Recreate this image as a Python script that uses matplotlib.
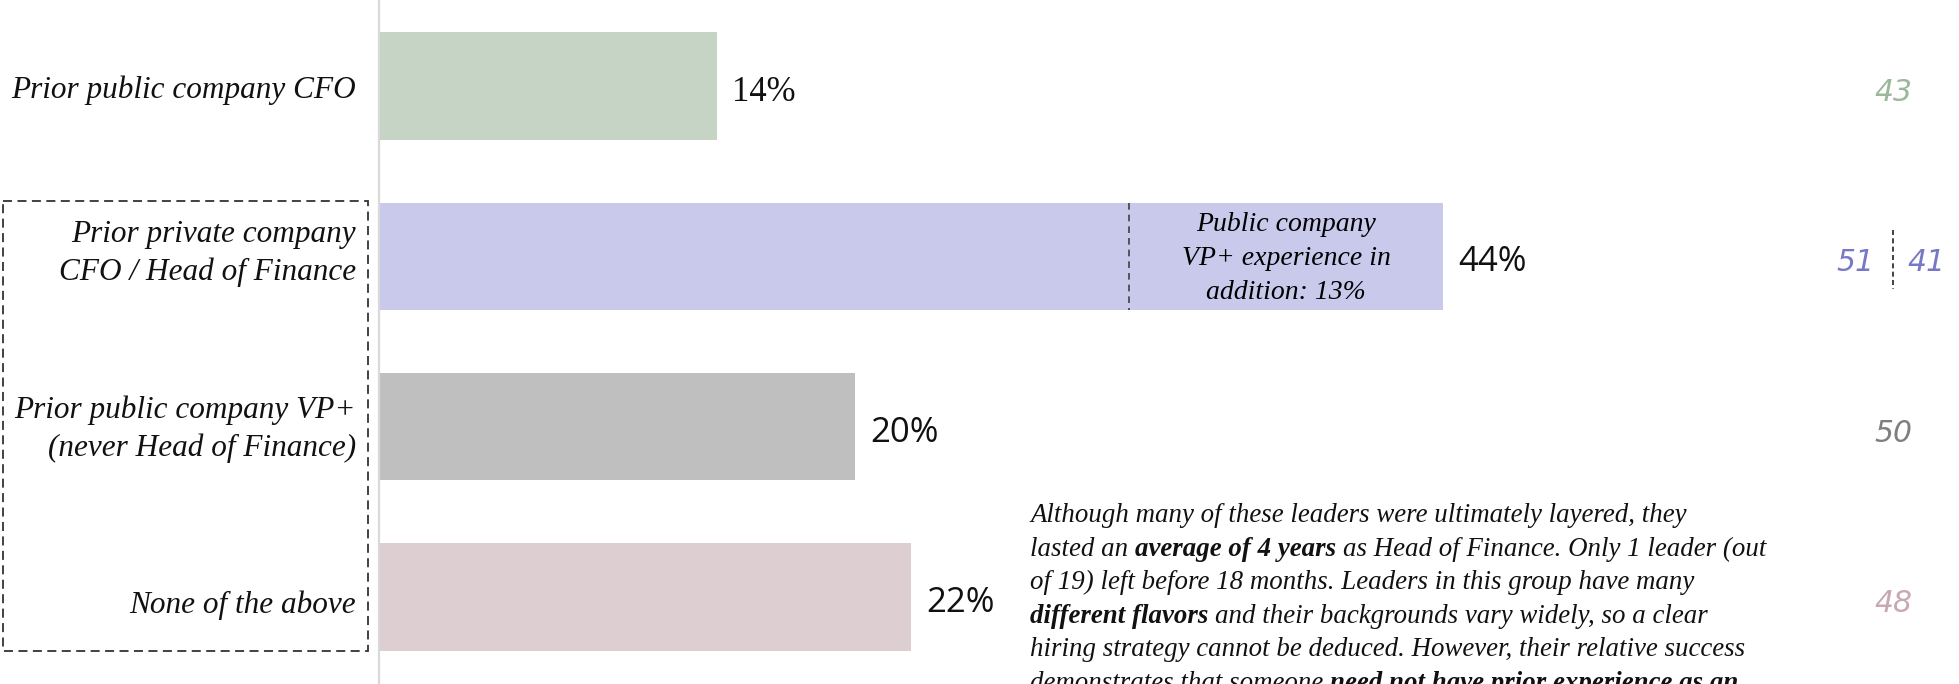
import matplotlib
matplotlib.use("Agg")
import matplotlib.pyplot as plt
import matplotlib.transforms as mtransforms
from matplotlib.patches import Rectangle

# ---------------- data ----------------
categories = ["Prior public company CFO",
              "Prior private company\nCFO / Head of Finance",
              "Prior public company VP+\n(never Head of Finance)",
              "None of the above"]
shares = [14, 44, 19.7, 22]
bar_colors = ["#c5d4c5", "#c9c9ec", "#bfbfbf", "#ddced2"]
overlap_share = 13
overlap_label = ["Public company", "VP+ experience in", "addition: 13%"]
scores = ["43", "51", "50", "48"]
score_alt = "41"
score_colors = ["#9bb89b", "#7878c8", "#7f7f7f", "#c8a8b2"]
note_lines = [
    [("Although many of these leaders were ultimately layered, they", False)],
    [("lasted an ", False), ("average of 4 years", True),
     (" as Head of Finance. Only 1 leader (out", False)],
    [("of 19) left before 18 months. Leaders in this group have many", False)],
    [("different flavors", True), (" and their backgrounds vary widely, so a clear", False)],
    [("hiring strategy cannot be deduced. However, their relative success", False)],
    [("demonstrates that someone ", False), ("need not have prior experience as an", True)],
]

# ---------------- layout ----------------
W, H = 1959, 684
SERIF = "Liberation Serif"
SANS = "Open Sans"
fig = plt.figure(figsize=(W / 100, H / 100), dpi=100)
fig.patch.set_facecolor("white")

ax_left_px = 378.6
px_per_pct = 24.2
row_px = 170.3
first_px = 86
bar_h = 107.5 / row_px

ax = fig.add_axes([ax_left_px / W, 0, 1 - ax_left_px / W, 1])
ax.set_xlim(0, (W - ax_left_px) / px_per_pct)
ax.set_ylim((H - first_px) / row_px, -first_px / row_px)
ypos = list(range(len(categories)))
ax.barh(ypos, shares, height=bar_h, color=bar_colors, zorder=2)
for s in ["top", "right", "bottom"]:
    ax.spines[s].set_visible(False)
ax.spines["left"].set_color("#d9d9d9")
ax.spines["left"].set_linewidth(1.6)
ax.set_xticks([])
ax.set_yticks([])


def off(trans, dx=0, dy_down=0):
    return mtransforms.offset_copy(trans, fig=fig, x=dx, y=-dy_down, units="dots")


# value labels
value_fonts = [SERIF, SANS, SANS, SANS]
for i, v in enumerate(shares):
    ax.text(v, i, f"{v:.0f}%", transform=off(ax.transData, 15, 15),
            ha="left", va="baseline", fontsize=25, family=value_fonts[i],
            color="#111111")

# category labels (left)
label_nudge = [0, -7, -2, 4]
for i, lab in enumerate(categories):
    lines = lab.split("\n")
    n = len(lines)
    for k, line in enumerate(lines):
        dy = 12 - (n - 1) * 19 + k * 38 + label_nudge[i]
        ax.text(0, i, line, transform=off(ax.transData, -22.6, dy),
                ha="right", va="baseline", fontsize=22.5, family=SERIF,
                style="italic", color="#111111")

# overlap portion in bar 2
split = shares[1] - overlap_share
ax.plot([split, split], [1 - bar_h / 2, 1 + bar_h / 2], color="#404040",
        lw=1.2, ls=(0, (4, 3)), zorder=3)
cx = (split + shares[1]) / 2
for k, line in enumerate(overlap_label):
    ax.text(cx, 1, line, transform=off(ax.transData, 0, -25 + 34 * k),
            ha="center", va="baseline", fontsize=20, family=SERIF,
            style="italic", color="#000000", zorder=4)

# dashed grouping box around rows 2-4
blend = mtransforms.blended_transform_factory(fig.transFigure, ax.transData)
box_top = 1 - bar_h / 2 - 2 / row_px
box_bot = 3 + bar_h / 2
rect = Rectangle((2.5 / W, box_top), (368 - 2.5) / W, box_bot - box_top,
                 transform=blend, fill=False, ls=(0, (5, 3)), lw=1.3,
                 ec="#333333", clip_on=False)
fig.add_artist(rect)

# scores on the right
score_x = [1893, 1855, 1893, 1893]
for i, sc in enumerate(scores):
    fig.text(score_x[i] / W, i, sc, transform=off(blend, 0, 15),
             ha="center", va="baseline", fontsize=21.5, family="DejaVu Sans",
             style="italic", color=score_colors[i])
fig.text(1926 / W, 1, score_alt, transform=off(blend, 0, 15),
         ha="center", va="baseline", fontsize=21.5, family="DejaVu Sans",
         style="italic", color=score_colors[1])
fig.add_artist(plt.Line2D([1893 / W, 1893 / W], [1 - 26 / row_px, 1 + 33 / row_px],
                          transform=blend, color="#222222", lw=1.2, ls=(0, (3, 2))))

# annotation paragraph with bold segments
renderer = fig.canvas.get_renderer()
ident = mtransforms.IdentityTransform()


def props(bold):
    return dict(fontsize=19.4, family=SERIF, style="italic",
                weight="bold" if bold else "normal", color="#111111")


def width(s, bold):
    t = fig.text(0, 0, s, transform=ident, **props(bold))
    w = t.get_window_extent(renderer).width
    t.remove()
    return w


space_w = {b: width("a a", b) - width("aa", b) for b in (False, True)}
x0 = 1030
base0 = 522
lead = 33.6
for li, segs in enumerate(note_lines):
    x = x0
    ybase = H - (base0 + lead * li)
    for txt, bold in segs:
        nlead = len(txt) - len(txt.lstrip(" "))
        ntrail = len(txt) - len(txt.rstrip(" "))
        core = txt.strip(" ")
        x += nlead * space_w[bold]
        fig.text(x, ybase, core, transform=ident, ha="left", va="baseline",
                 **props(bold))
        x += width(core, bold)
        x += ntrail * space_w[bold]

fig.savefig("out.png", dpi=100)
